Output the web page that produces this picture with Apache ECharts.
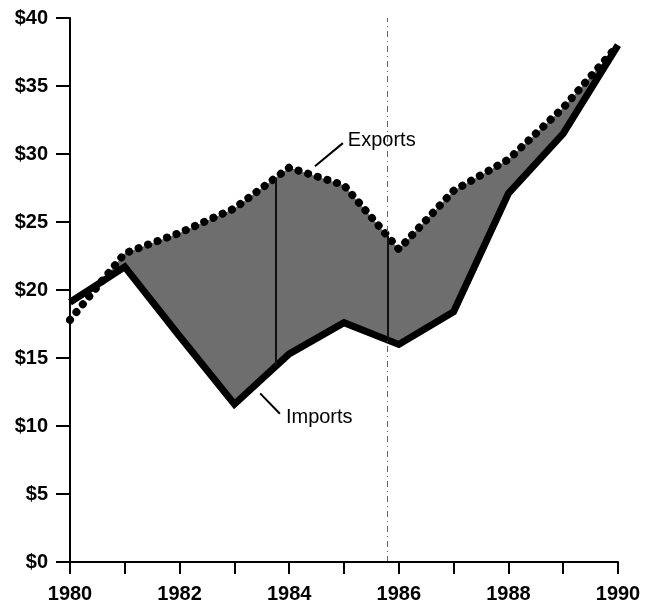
<!DOCTYPE html>
<html>
<head>
<meta charset="utf-8">
<script src="https://cdn.jsdelivr.net/npm/echarts@6/dist/echarts.min.js"></script>
<style>
html,body{margin:0;padding:0;background:#fff;}
#c{width:656px;height:607px;}
</style>
</head>
<body>
<div id="c"></div>
<script>
// ---- data ----
const years   = [1980, 1981, 1982, 1983, 1984, 1985, 1986, 1987, 1988, 1989, 1990];
const exportsVals = [17.8, 22.7, 24.2, 26.0, 29.0, 27.7, 23.0, 27.3, 29.6, 33.4, 38.0];
const importsVals = [19.1, 21.7, 16.6, 11.6, 15.3, 17.6, 16.0, 18.4, 27.1, 31.5, 38.0];
const yTicks = [0, 5, 10, 15, 20, 25, 30, 35, 40];
const refYear = 1985.79;      // dash-dot vertical reference line
const innerRuleYear = 1983.75; // thin rule inside shaded band
const seriesLabels = ['Exports', 'Imports'];

// annotations in data units: [text anchor, leader start, leader end]
const annExports = {text: [1985.07, 31.0], from: [1984.47, 29.1], to: [1984.98, 30.8]};
const annImports = {text: [1983.94, 10.6], from: [1983.47, 12.4], to: [1983.83, 10.9]};

const exportsData = years.map((y, i) => [y, exportsVals[i]]);
const importsData = years.map((y, i) => [y, importsVals[i]]);

function interp(vals, x) {
  for (let i = 0; i < years.length - 1; i++) {
    if (x >= years[i] && x <= years[i + 1]) {
      const t = (x - years[i]) / (years[i + 1] - years[i]);
      return vals[i] + t * (vals[i + 1] - vals[i]);
    }
  }
  return vals[vals.length - 1];
}

const FONT = 'Liberation Sans, Arial, Helvetica, sans-serif';
const chart = echarts.init(document.getElementById('c'), null, {renderer: 'canvas'});

const innerRules = [innerRuleYear, refYear].map(x => [
  {coord: [x, interp(exportsVals, x)]},
  {coord: [x, interp(importsVals, x)]}
]);

chart.setOption({
  animation: false,
  backgroundColor: '#fff',
  grid: {left: 70, right: 38, top: 18, bottom: 45, containLabel: false},
  xAxis: {
    type: 'value', min: 1980, max: 1990, interval: 1, z: 5,
    axisLine: {show: true, onZero: false, lineStyle: {color: '#000', width: 2}},
    axisTick: {show: true, length: 12, lineStyle: {color: '#000', width: 2}},
    splitLine: {show: false},
    axisLabel: {
      margin: 22, color: '#000', fontFamily: FONT, fontWeight: 'bold', fontSize: 20,
      formatter: v => (v % 2 === 0 ? String(v) : '')
    }
  },
  yAxis: {
    type: 'value', min: 0, max: 40, interval: 5, z: 5,
    axisLine: {show: true, lineStyle: {color: '#000', width: 2}},
    axisTick: {show: true, length: 14, lineStyle: {color: '#000', width: 2}},
    splitLine: {show: false},
    axisLabel: {
      margin: 22, color: '#000', fontFamily: FONT, fontWeight: 'bold', fontSize: 20,
      formatter: v => (yTicks.indexOf(v) >= 0 ? '$' + v : '')
    }
  },
  series: [
    {
      name: seriesLabels[0] + ' area', type: 'line', data: exportsData, symbol: 'none', z: 1,
      lineStyle: {width: 0, opacity: 0},
      areaStyle: {color: '#6e6e6e', opacity: 1, origin: 'start'},
      silent: true
    },
    {
      name: seriesLabels[1] + ' area', type: 'line', data: importsData, symbol: 'none', z: 2,
      lineStyle: {width: 0, opacity: 0},
      areaStyle: {color: '#ffffff', opacity: 1, origin: 'start'},
      silent: true,
      markLine: {
        silent: true, symbol: 'none', animation: false,
        label: {show: false},
        lineStyle: {color: '#666', width: 1, type: [6, 4, 1, 4]},
        data: [{xAxis: refYear}]
      }
    },
    {
      name: 'rules', type: 'line', data: [], z: 3,
      markLine: {
        silent: true, symbol: 'none', animation: false,
        label: {show: false},
        lineStyle: {color: '#111', width: 2, type: 'solid'},
        data: innerRules
      }
    },
    {
      name: seriesLabels[1], type: 'line', data: importsData, symbol: 'none', z: 4,
      lineStyle: {color: '#000', width: 7, join: 'miter', cap: 'butt'}
    },
    {
      name: seriesLabels[0], type: 'line', data: exportsData, symbol: 'none', z: 4,
      lineStyle: {color: '#000', width: 8, type: [0.1, 10], cap: 'round'}
    }
  ]
});

function px(p) { return chart.convertToPixel({gridIndex: 0}, p); }
function annGraphics(a, label) {
  const t = px(a.text), f = px(a.from), e = px(a.to);
  return [
    {type: 'line', z: 10, shape: {x1: f[0], y1: f[1], x2: e[0], y2: e[1]},
     style: {stroke: '#000', lineWidth: 2}},
    {type: 'text', z: 10, x: t[0], y: t[1],
     style: {text: label, fill: '#000', font: '20px ' + FONT, textAlign: 'left', textVerticalAlign: 'middle'}}
  ];
}
chart.setOption({
  graphic: [].concat(annGraphics(annExports, seriesLabels[0]), annGraphics(annImports, seriesLabels[1]))
});
</script>
</body>
</html>
